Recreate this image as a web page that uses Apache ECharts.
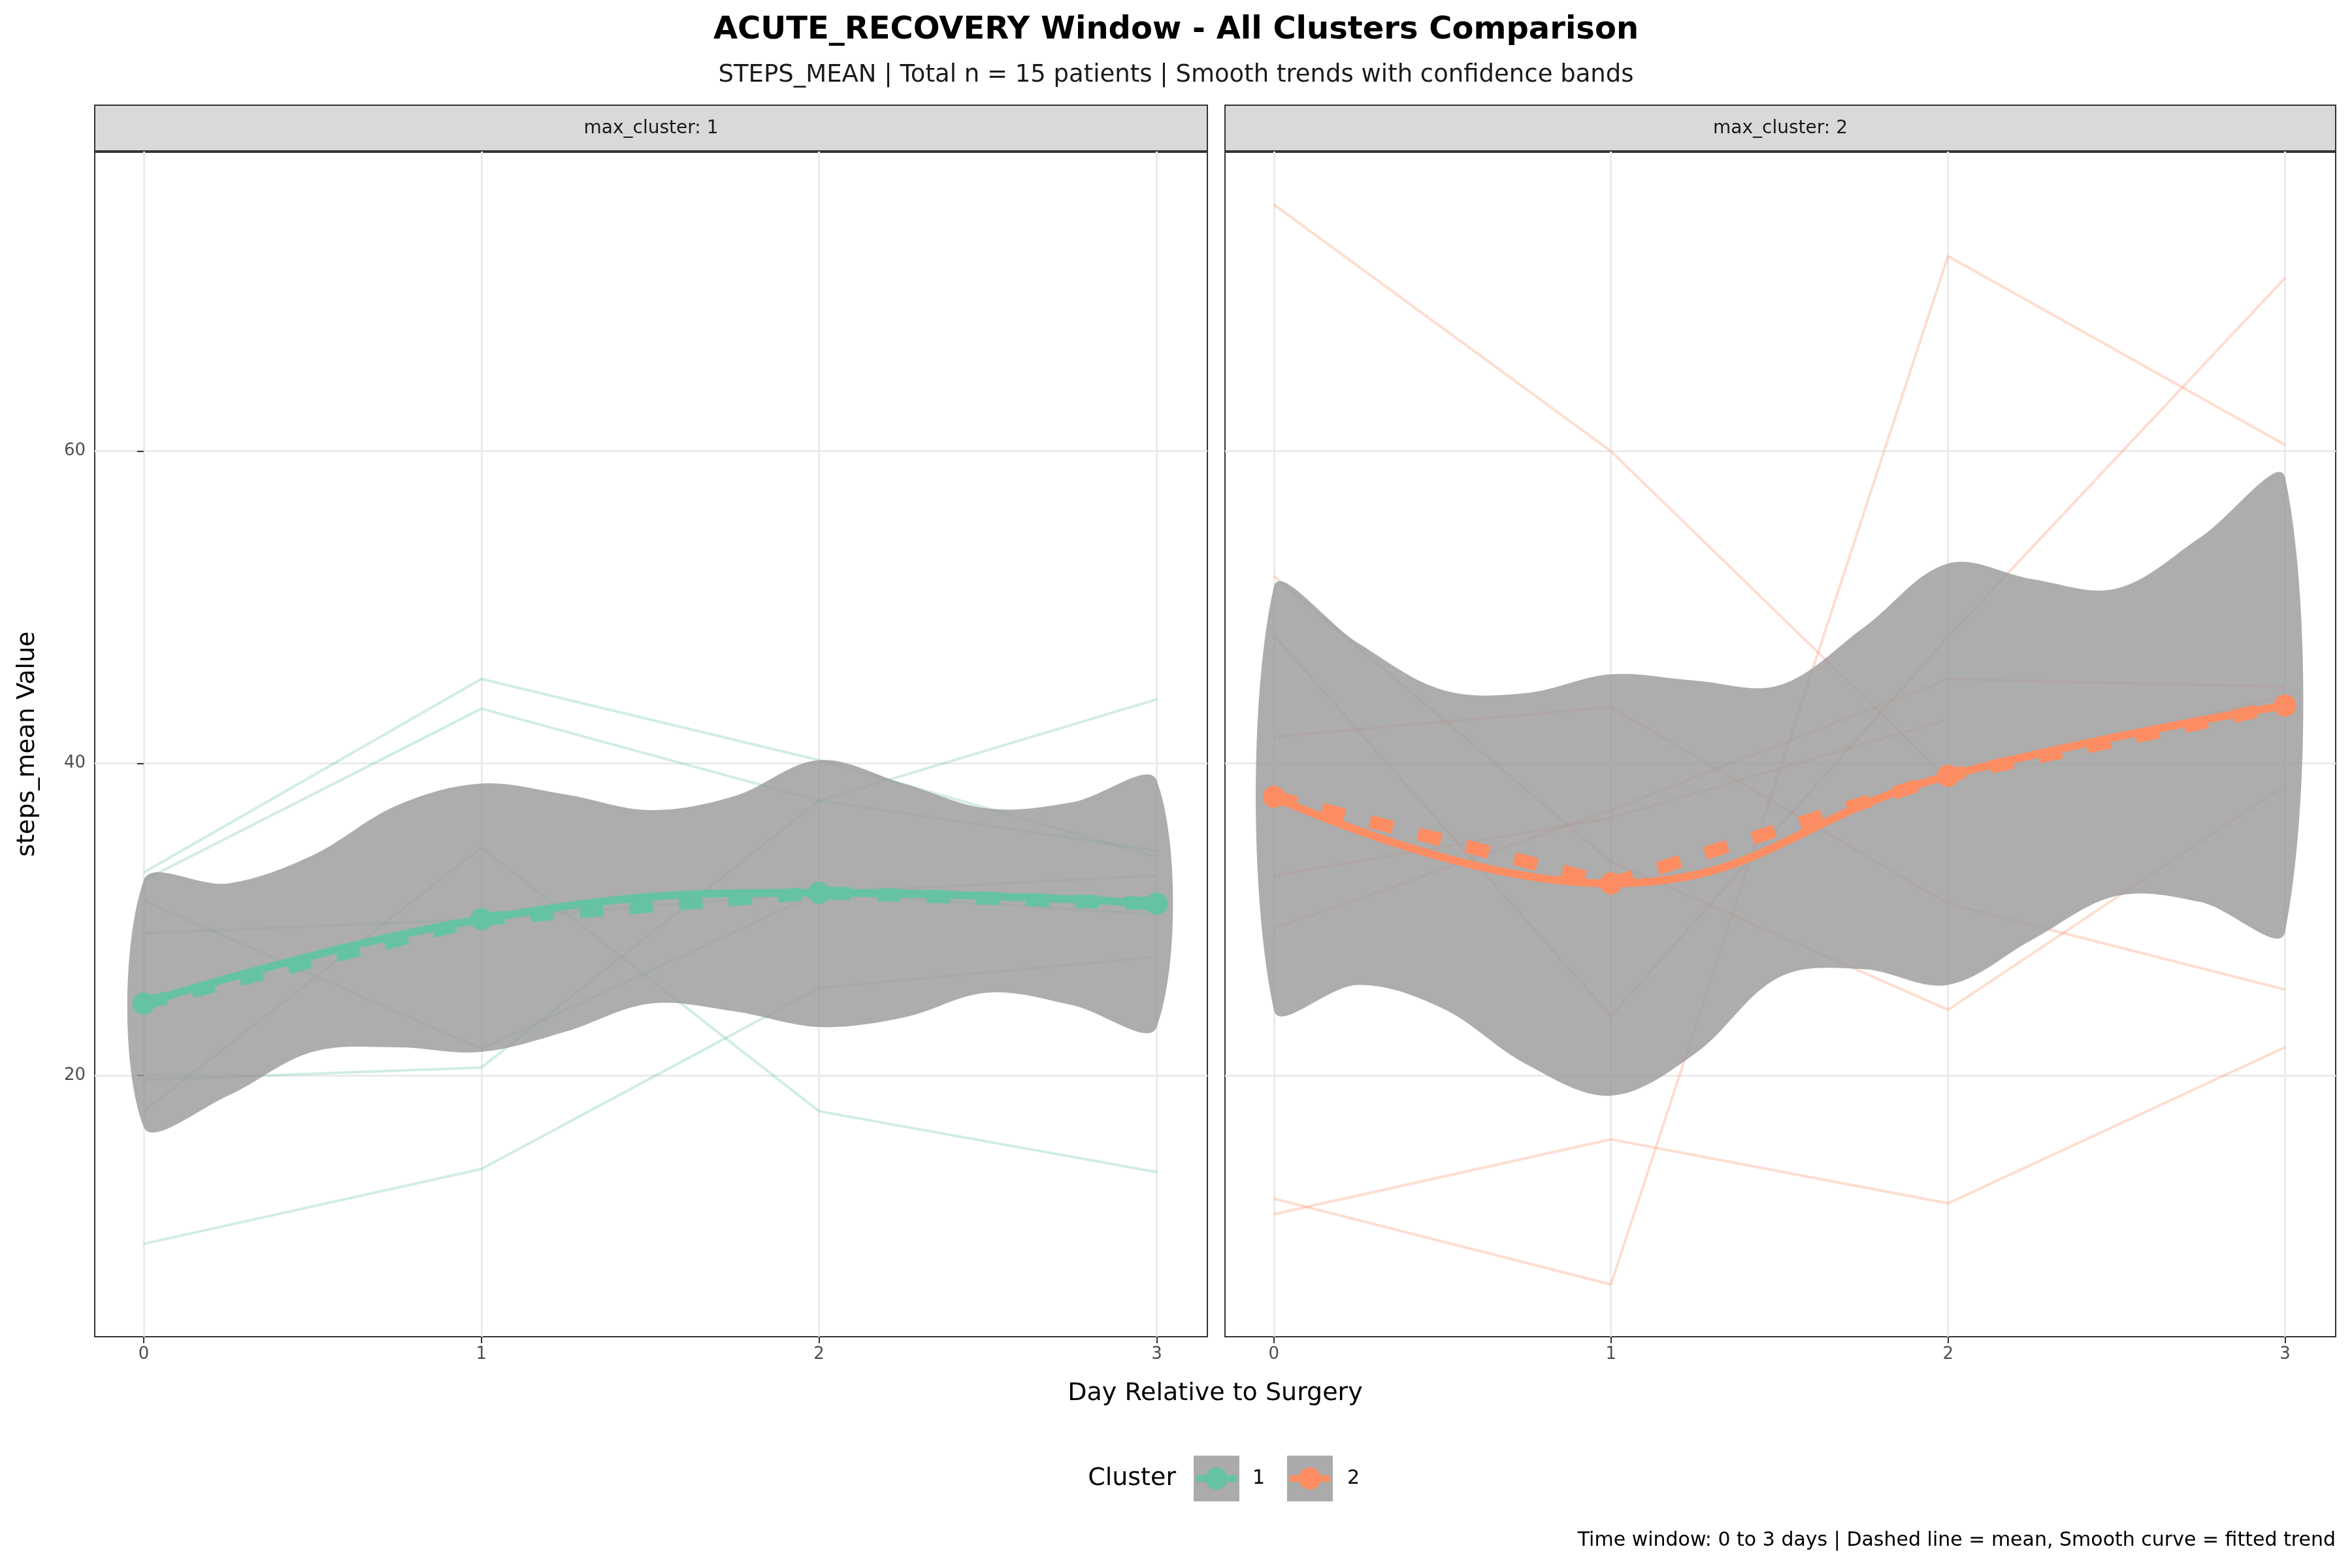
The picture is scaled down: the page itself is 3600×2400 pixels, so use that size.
<!DOCTYPE html>
<html>
<head>
<meta charset="utf-8">
<script src="https://cdn.jsdelivr.net/npm/echarts@6/dist/echarts.min.js"></script>
<style>
  html, body { margin: 0; padding: 0; background: #fff; }
  #chart { width: 3600px; height: 2400px; }
</style>
</head>
<body>
<div id="chart"></div>
<script>
// Data
const days = [0, 1, 2, 3];
const tickDays = [0, 1, 2, 3];
const tickValues = [20, 40, 60];

// individual patient trajectories, cluster 1
const patients1 = [
    [33.0, 45.4, 40.2, 34.0],
    [32.5, 43.5, 37.6, 34.4],
    [9.2, 14.0, 25.6, 27.6],
    [19.7, 20.5, 37.6, 44.1],
    [29.1, 30.0, 31.7, 32.8],
    [31.2, 21.7, 31.7, 30.3],
    [17.7, 34.6, 17.7, 13.8]
];
// cluster 2 (one patient has no day 3)
const patients2 = [
    [75.8, 60.0, 39.0, 44.3],
    [12.1, 6.6, 72.5, 60.4],
    [11.1, 15.9, 11.8, 21.8],
    [52.0, 33.7, 24.2, 38.6],
    [48.2, 23.8, 48.1, 71.1],
    [41.7, 43.6, 31.0, 25.5],
    [29.4, 37.0, 45.4, 44.9],
    [32.8, 36.5, 42.8, null]
];

const mean1 = [24.6, 30.0, 31.7, 31.0];
const mean2 = [37.85, 32.3, 39.2, 43.7];

// confidence band of the fitted trend
const bandX = [0, 0.25, 0.5, 0.75, 1, 1.25, 1.5, 1.75, 2, 2.25, 2.5, 2.75, 3];
const band1Low = [16.7, 18.7, 21.5, 21.8, 21.5, 22.8, 24.6, 24.1, 23.1, 23.7, 25.3, 24.5, 23.1];
const band1High = [32.5, 32.3, 34.1, 37.3, 38.7, 38.0, 37.0, 37.9, 40.2, 38.7, 37.1, 37.5, 38.9];
const band2Low = [24.2, 25.8, 24.3, 20.7, 18.7, 21.4, 26.3, 26.8, 25.8, 28.7, 31.5, 31.1, 29.2];
const band2High = [51.3, 47.7, 44.7, 44.5, 45.7, 45.3, 45.0, 48.7, 52.8, 51.8, 51.2, 54.5, 58.3];

const colors = ['#66c2a5', '#fc8d62'];
const font = 'DejaVu Sans';

const chart = echarts.init(document.getElementById('chart'));

const grids = [
    { left: 145, right: 1752, top: 232, bottom: 354 },
    { left: 1875, right: 25, top: 232, bottom: 354 }
];

function xAxisFor(i) {
    return {
        type: 'value', gridIndex: i, min: -0.145, max: 3.15,
        axisLine: { show: false },
        axisTick: { show: true, length: 10, lineStyle: { color: '#333', width: 2 }, customValues: tickDays },
        axisLabel: { color: '#4d4d4d', fontSize: 26, fontFamily: font, margin: 14, customValues: tickDays },
        splitLine: { show: true, lineStyle: { color: '#ebebeb', width: 3 } }
    };
}
function yAxisFor(i) {
    return {
        type: 'value', gridIndex: i, min: 3.25, max: 79.2,
        axisLine: { show: false },
        axisTick: { show: i === 0, length: 10, lineStyle: { color: '#333', width: 2 }, customValues: tickValues },
        axisLabel: { show: i === 0, color: '#4d4d4d', fontSize: 26, fontFamily: font, margin: 14, customValues: tickValues },
        splitLine: { show: true, lineStyle: { color: '#ebebeb', width: 3 } }
    };
}

function bandSeries(i, lows, highs) {
    const data = bandX.map((x, k) => [x, lows[k], highs[k]]);
    return {
        type: 'custom', xAxisIndex: i, yAxisIndex: i, z: 2,
        data: data,
        encode: { x: 0, y: [1, 2] },
        renderItem: function (params, api) {
            if (params.dataIndex !== 0) return;
            const upper = data.map(d => api.coord([d[0], d[2]]));
            const lower = data.map(d => api.coord([d[0], d[1]])).reverse();
            return {
                type: 'group',
                children: [{
                    type: 'polygon',
                    shape: { points: upper.concat(lower), smooth: 0.35 },
                    style: { fill: 'rgba(153,153,153,0.8)' }
                }]
            };
        }
    };
}

const series = [];
[patients1, patients2].forEach((group, i) => {
    group.forEach(p => {
        series.push({
            type: 'line', xAxisIndex: i, yAxisIndex: i, z: 1,
            data: days.map((d, k) => p[k] == null ? null : [d, p[k]]),
            showSymbol: false, silent: true,
            lineStyle: { color: colors[i], width: 4, opacity: 0.3 }
        });
    });
});
series.push(bandSeries(0, band1Low, band1High));
series.push(bandSeries(1, band2Low, band2High));
[mean1, mean2].forEach((m, i) => {
    series.push({
        type: 'line', xAxisIndex: i, yAxisIndex: i, z: 4,
        data: days.map((d, k) => [d, m[k]]),
        smooth: 0.45, showSymbol: false,
        lineStyle: { color: colors[i], width: 12 }
    });
    series.push({
        type: 'line', xAxisIndex: i, yAxisIndex: i, z: 5,
        data: days.map((d, k) => [d, m[k]]),
        symbol: 'circle', symbolSize: 34,
        itemStyle: { color: colors[i] },
        lineStyle: { color: colors[i], width: 20, type: [36, 40] }
    });
});

function strip(x, w, label) {
    return [
        { type: 'rect', shape: { x: x, y: 161, width: w, height: 71 }, style: { fill: '#d9d9d9', stroke: '#333', lineWidth: 2 } },
        { type: 'line', shape: { x1: x, y1: 232, x2: x + w, y2: 232 }, style: { stroke: '#333', lineWidth: 4 } },
        { type: 'text', x: x + w / 2, y: 197, style: { text: label, fill: '#1a1a1a', font: '28px "' + font + '"', align: 'center', verticalAlign: 'middle' } }
    ];
}
function legendKey(x, y, c) {
    return [
        { type: 'rect', shape: { x: x, y: y, width: 70, height: 70 }, style: { fill: '#ababab' } },
        { type: 'line', shape: { x1: x + 4, y1: y + 35, x2: x + 66, y2: y + 35 }, style: { stroke: c, lineWidth: 10 } },
        { type: 'circle', shape: { cx: x + 35, cy: y + 35, r: 17 }, style: { fill: c } }
    ];
}

chart.setOption({
    backgroundColor: '#fff',
    animation: false,
    title: [
        { text: 'ACUTE_RECOVERY Window - All Clusters Comparison', left: 'center', top: 18,
          textStyle: { fontSize: 48, fontWeight: 'bold', color: '#000', fontFamily: font } },
        { text: 'STEPS_MEAN | Total n = 15 patients | Smooth trends with confidence bands', left: 'center', top: 92,
          textStyle: { fontSize: 37, fontWeight: 'normal', color: '#1a1a1a', fontFamily: font } }
    ],
    grid: grids.map(g => Object.assign({ show: true, borderColor: '#333', borderWidth: 2, backgroundColor: '#fff' }, g)),
    xAxis: [xAxisFor(0), xAxisFor(1)],
    yAxis: [yAxisFor(0), yAxisFor(1)],
    series: series,
    graphic: [].concat(
        strip(145, 1703, 'max_cluster: 1'),
        strip(1875, 1700, 'max_cluster: 2'),
        [
            { type: 'text', x: 1860, y: 2133, style: { text: 'Day Relative to Surgery', fill: '#000', font: '38px "' + font + '"', align: 'center', verticalAlign: 'middle' } },
            { type: 'text', x: 42, y: 1139, rotation: Math.PI / 2, style: { text: 'steps_mean Value', fill: '#000', font: '38px "' + font + '"', align: 'center', verticalAlign: 'middle' } },
            { type: 'text', x: 1800, y: 2263, style: { text: 'Cluster', fill: '#000', font: '38px "' + font + '"', align: 'right', verticalAlign: 'middle' } },
            { type: 'text', x: 1917, y: 2263, style: { text: '1', fill: '#000', font: '30px "' + font + '"', align: 'left', verticalAlign: 'middle' } },
            { type: 'text', x: 2062, y: 2263, style: { text: '2', fill: '#000', font: '30px "' + font + '"', align: 'left', verticalAlign: 'middle' } },
            { type: 'text', x: 3575, y: 2358, style: { text: 'Time window: 0 to 3 days | Dashed line = mean, Smooth curve = fitted trend', fill: '#000', font: '30px "' + font + '"', align: 'right', verticalAlign: 'middle' } }
        ],
        legendKey(1827, 2228, colors[0]),
        legendKey(1970, 2228, colors[1])
    )
});
</script>
</body>
</html>
